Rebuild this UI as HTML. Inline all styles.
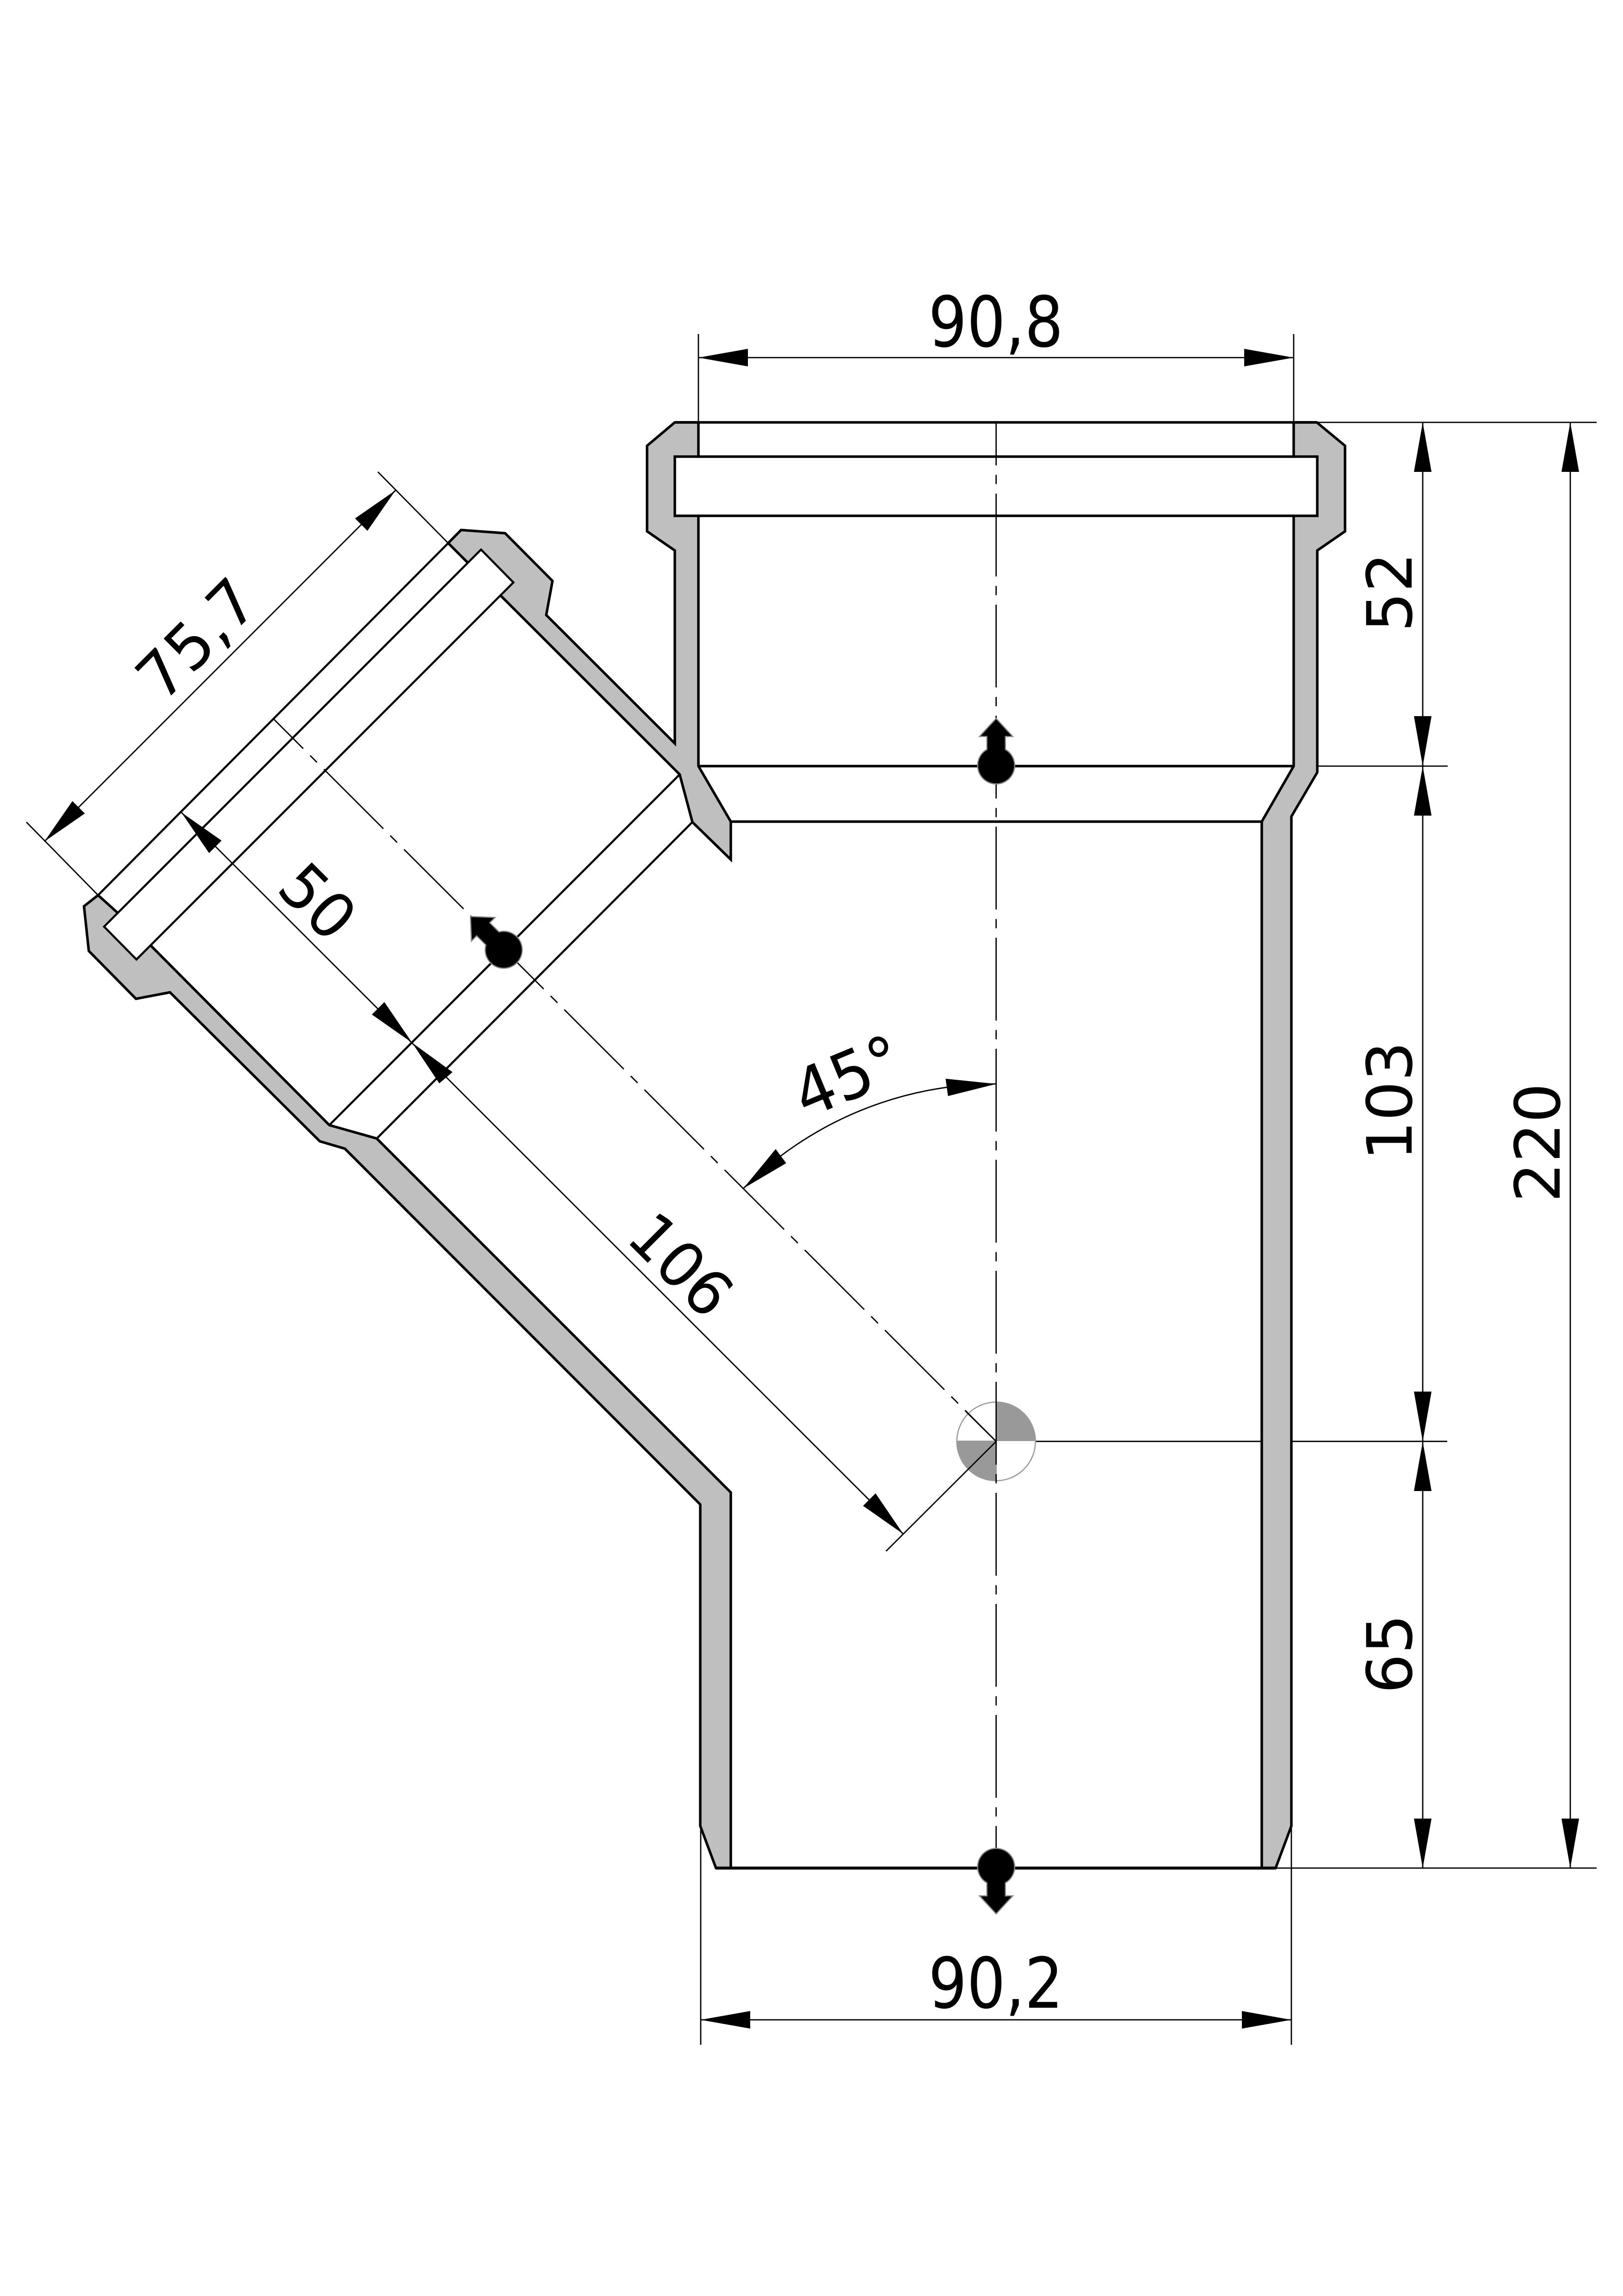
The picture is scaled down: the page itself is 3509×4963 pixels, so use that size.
<!DOCTYPE html>
<html>
<head>
<meta charset="utf-8">
<title>45° branch fitting</title>
<style>
html,body{margin:0;padding:0;background:#fff}
svg{display:block;position:absolute;left:0;top:0}
text{font-family:"DejaVu Sans","Liberation Sans",sans-serif;font-size:135px;fill:#000;text-anchor:middle}
</style>
</head>
<body>
<svg xmlns="http://www.w3.org/2000/svg" width="3509" height="4963" viewBox="0 0 3509 4963">
<rect width="3509" height="4963" fill="#fff"/>

<!-- thin extension lines beneath walls -->
<g fill="none" stroke="#000" stroke-width="2.8">
  <line x1="2154" y1="3115.7" x2="3129" y2="3115.7"/>
  <line x1="1510" y1="722" x2="1510" y2="913"/>
  <line x1="2797" y1="722" x2="2797" y2="913"/>
  <line x1="2847" y1="913" x2="3452" y2="913"/>
  <line x1="2848" y1="1656" x2="3130" y2="1656"/>
  <line x1="2758" y1="4038" x2="3452" y2="4038"/>
  <line x1="1515" y1="3947" x2="1515" y2="4420"/>
  <line x1="2792" y1="3947" x2="2792" y2="4420"/>
  <line x1="817" y1="1020" x2="969" y2="1174"/>
  <line x1="57" y1="1777" x2="212" y2="1935"/>
</g>

<!-- walls -->
<g fill="#bfbfbf" stroke="#000" stroke-width="5.5" stroke-linejoin="miter" stroke-miterlimit="6">
  <polygon points="1510,913 1459,913 1399,963.5 1399,1148.5 1459,1190 1459,1607 1181,1329.4 1194.5,1255.7 1092,1152.6 997,1145.6 969,1174 1009,1214 1083,1288 1469.5,1674 1497,1777 1580,1858 1580,1776 1510,1656"/>
  <polygon points="2797,913 2847,913 2908,963.5 2908,1148.5 2848,1190 2848,1669.5 2792,1765 2792,3947 2758,4038 2728,4038 2728,1776 2797,1656"/>
  <polygon points="212,1935 181.6,1959 192,2055.5 294,2159 367.5,2145 691.5,2467 745.7,2483 1514,3252 1514,3947 1548,4038 1580,4038 1580,3226 814.5,2461 712,2432 329,2047 253,1972"/>
</g>

<!-- internal lines -->
<g fill="none" stroke="#000" stroke-width="5.5">
  <line x1="1459" y1="913" x2="2847" y2="913"/>
  <line x1="1510" y1="1656" x2="2797" y2="1656"/>
  <line x1="1580" y1="1776" x2="2728" y2="1776"/>
  <line x1="1548" y1="4038" x2="2758" y2="4038" stroke-width="6.5"/>
  <line x1="212" y1="1935" x2="969" y2="1174" stroke-width="4.5"/>
  <line x1="1469.5" y1="1674" x2="712" y2="2432" stroke-width="4.5"/>
  <line x1="1497" y1="1777" x2="814.5" y2="2461" stroke-width="4.5"/>
</g>
<!-- gaskets -->
<rect x="1459" y="987" width="1389" height="128" fill="#fff" stroke="#000" stroke-width="5.5"/>
<polygon points="1040,1188 1110,1259 295,2074 225,2003" fill="#fff" stroke="#000" stroke-width="4.5"/>

<!-- origin symbol -->
<circle cx="2153.7" cy="3115.7" r="85" fill="#fff" stroke="#999" stroke-width="2.5"/>
<path d="M2153.7 3115 V3030.7 A85 85 0 0 1 2238.7 3115 Z M2155 3114 V3201 A86 86 0 0 1 2067.7 3114 Z" fill="#999"/>

<!-- axes -->
<g fill="none" stroke="#000" stroke-width="2.8">
  <line x1="2153.7" y1="913" x2="2153.7" y2="4038" stroke-dasharray="179 20.5 20 20.5" stroke-dashoffset="86"/>
  <line x1="592" y1="1554.6" x2="2153.7" y2="3115.7" stroke-dasharray="182 21 21 21" stroke-dashoffset="92"/>
  <line x1="2153.7" y1="3115.7" x2="2088" y2="3050.7"/>
  <line x1="2153.7" y1="3115.7" x2="1915.7" y2="3353"/>
  <line x1="392" y1="1756" x2="1953" y2="3316"/>
  <line x1="855" y1="1060" x2="96" y2="1819"/>
  <line x1="1510" y1="773" x2="2797" y2="773"/>
  <line x1="1515" y1="4366" x2="2792" y2="4366"/>
  <line x1="3076" y1="913" x2="3076" y2="4038"/>
  <line x1="3395" y1="913" x2="3395" y2="4038"/>
  <path d="M2154 2343 A773 773 0 0 0 1607 2569"/>
</g>

<!-- arrowheads -->
<g fill="#000">
  <polygon points="1510,773 1617,754 1617,792"/>
  <polygon points="2797,773 2690,754 2690,792"/>
  <polygon points="1515,4366 1622,4347 1622,4385"/>
  <polygon points="2792,4366 2685,4347 2685,4385"/>
  <polygon points="3076,913 3057,1020 3095,1020"/>
  <polygon points="3076,1656 3057,1548 3095,1548"/>
  <polygon points="3076,1656 3057,1763 3095,1763"/>
  <polygon points="3076,3116 3057,3008 3095,3008"/>
  <polygon points="3076,3116 3057,3223 3095,3223"/>
  <polygon points="3076,4038 3057,3931 3095,3931"/>
  <polygon points="3395,913 3376,1020 3414,1020"/>
  <polygon points="3395,4038 3376,3931 3414,3931"/>
  <polygon points="855,1060 767.6,1120.6 794.4,1147.4"/>
  <polygon points="96,1819 156.6,1731.6 183.4,1758.4"/>
  <polygon points="392,1756 479,1817 452,1844"/>
  <polygon points="891,2254 804,2193 831,2166"/>
  <polygon points="891,2254 978.4,2317.5 949.7,2341.7"/>
  <polygon points="1953,3316 1866,3255 1893,3228"/>
  <polygon points="2154,2343 2044.4,2331.7 2049.6,2369.3"/>
  <polygon points="1607,2569 1677,2483.8 1699.8,2514.2"/>
</g>

<!-- section markers -->
<g fill="#000" stroke="#888" stroke-width="2.5">
  <path transform="translate(2153.7 1656)" d="M-20 -36 L-20 -64 L-36 -64 L0 -103 L36 -64 L20 -64 L20 -36 A40 40 0 1 1 -20 -36 Z"/>
  <path transform="translate(2153.7 4034) rotate(180)" d="M-20 -36 L-20 -64 L-36 -64 L0 -103 L36 -64 L20 -64 L20 -36 A40 40 0 1 1 -20 -36 Z"/>
  <path transform="translate(1090 2054) rotate(-45)" d="M-20 -36 L-20 -64 L-36 -64 L0 -103 L36 -64 L20 -64 L20 -36 A40 40 0 1 1 -20 -36 Z"/>
</g>

<!-- labels -->
<text transform="translate(2153 694) scale(0.97 1.12)" y="49">90,8</text>
<text transform="translate(2153 4285) scale(0.97 1.12)" y="49">90,2</text>
<text transform="translate(3003 1280) rotate(-90)" y="49">52</text>
<text transform="translate(3003 2380) rotate(-90)" y="49">103</text>
<text transform="translate(3003 3575) rotate(-90)" y="49">65</text>
<text transform="translate(3323 2470) rotate(-90)" y="49">220</text>
<text transform="translate(424 1380) rotate(-45)" y="49">75,7</text>
<text transform="translate(688 1948) rotate(45) scale(0.97 1)" y="49">50</text>
<text transform="translate(1473 2733) rotate(45) scale(0.97 1)" y="49">106</text>
<text transform="translate(1832 2325) rotate(-22.5) scale(1 1.06)" y="49">45°</text>
</svg>
</body>
</html>
